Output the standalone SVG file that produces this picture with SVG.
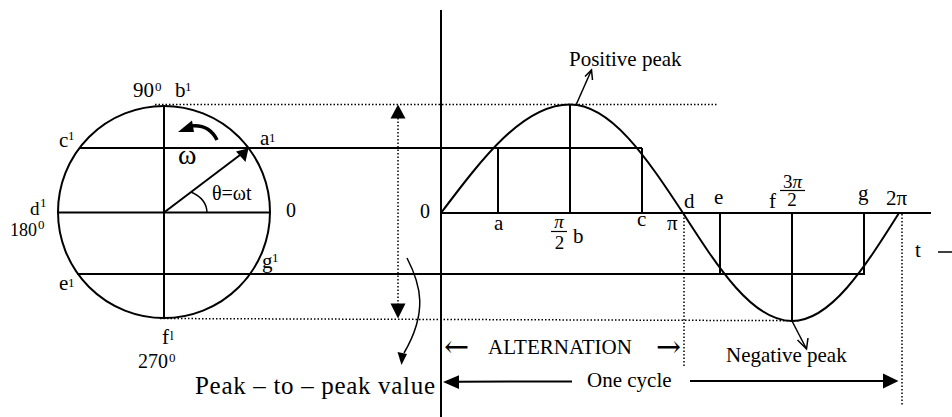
<svg xmlns="http://www.w3.org/2000/svg" width="952" height="417" viewBox="0 0 952 417">
<style>
text{font-family:"Liberation Serif","Times New Roman",serif;fill:#000;font-size:21px}
.sup{font-size:13px}
.arr{font-family:"DejaVu Serif","Liberation Serif",serif;font-size:30px}
.ln{stroke:#000;stroke-width:2;fill:none}
.dot{stroke:#000;stroke-width:1.5;fill:none;stroke-dasharray:1.5 2}
.thin{stroke:#000;stroke-width:1.5;fill:none}
</style>
<rect width="952" height="417" fill="#fff"/>
<g id="phasor-circle">
<circle cx="164" cy="212" r="106" class="ln"/>
<line x1="164" y1="106" x2="164" y2="318" class="ln"/>
<line x1="58" y1="212.5" x2="270" y2="212.5" class="ln"/>
</g>
<g id="sine-wave">
<path class="ln" d="M441,213 C483.1,157.2 523.3,104.5 570,104.5 C610.9,104.5 646.2,157.2 683,213 C718.5,268.3 752.6,321 792,321 C830.7,321 864.1,268.3 899,213"/>
<line x1="498" y1="148" x2="498" y2="213" class="ln"/>
<line x1="570" y1="104.5" x2="570" y2="213" class="ln"/>
<line x1="642" y1="148" x2="642" y2="213" class="ln"/>
<line x1="720" y1="213" x2="720" y2="274" class="ln"/>
<line x1="792" y1="213" x2="792" y2="321" class="ln"/>
<line x1="864" y1="213" x2="864" y2="274" class="ln"/>
</g>
<g id="axes">
<line x1="441" y1="10" x2="441" y2="417" class="ln"/>
<line x1="441" y1="213" x2="931" y2="213" class="ln"/>
</g>
<g id="connectors">
<line x1="79" y1="148" x2="642" y2="148" class="ln"/>
<line x1="77" y1="274" x2="865" y2="274" class="ln"/>
<line x1="155" y1="104.5" x2="718" y2="104.5" class="dot"/>
<line x1="160" y1="318.5" x2="800" y2="320.7" class="dot"/>
<line x1="684" y1="214" x2="684" y2="366" class="dot"/>
<line x1="902" y1="214" x2="902" y2="406" class="dot"/>
<line x1="398" y1="118" x2="398" y2="304" class="dot"/>
<polygon points="398,104.5 390.5,118.5 405.5,118.5" fill="#000"/>
<polygon points="398,318.5 390.5,303.5 405.5,303.5" fill="#000"/>
<path class="thin" d="M407,258 C421,285 428,312 404,353"/>
<polygon points="401.5,365 397.5,352 407,354" fill="#000"/>
<line x1="164" y1="212.5" x2="240" y2="155" class="ln"/>
<polygon points="248.5,148.3 236,151.5 245.5,162" fill="#000"/>
<path class="thin" d="M191,192 Q207,199 207,213"/>
<path d="M217,140 Q209,124 191,126" stroke="#000" stroke-width="3.5" fill="none"/>
<polygon points="178,132 192,120.5 194,132" fill="#000"/>
<line x1="576" y1="105" x2="591.5" y2="70" class="thin"/>
<polyline points="585,76.5 591.5,70 592.5,80" class="thin"/>
<line x1="792" y1="321" x2="806.5" y2="349" class="thin"/>
<polyline points="797.5,340 806.5,349 808,338" class="thin"/>
<line x1="458" y1="381.7" x2="572" y2="381.5" class="ln"/>
<polygon points="443,382 459,375.3 459,389" fill="#000"/>
<line x1="690" y1="381" x2="884" y2="381" class="ln"/>
<polygon points="898.5,381 883,373.5 883,388.5" fill="#000"/>
<line x1="938" y1="252" x2="952" y2="252" class="thin"/>
</g>
<g id="labels">
<text x="133" y="97">90</text><text x="155" y="91" class="sup">0</text>
<text x="175" y="97">b</text><text x="185" y="91" class="sup">1</text>
<text x="59" y="147">c</text><text x="68" y="140" class="sup">1</text>
<text x="260" y="145">a</text><text x="269" y="142" class="sup">1</text>
<text x="178" y="164" style="font-size:28px">ω</text>
<text x="212" y="200" style="font-size:20px">θ=ωt</text>
<text x="286" y="217" style="font-size:20px">0</text>
<text x="30" y="215" style="font-size:19px">d</text><text x="40" y="207" class="sup">1</text>
<text x="10" y="236" style="font-size:18px">180</text><text x="38" y="229" class="sup">0</text>
<text x="262" y="268">g</text><text x="272" y="262" class="sup">1</text>
<text x="59" y="290">e</text><text x="68" y="287" class="sup">1</text>
<text x="162" y="344">f</text><text x="170" y="340" class="sup">l</text>
<text x="138" y="368" style="font-size:20px">270</text><text x="169" y="362" class="sup">0</text>
<text x="420" y="218" style="font-size:20px">0</text>
<text x="494" y="230">a</text>
<text x="559" y="228" text-anchor="middle" style="font-size:19px;font-style:italic">π</text>
<line x1="551" y1="231.5" x2="567" y2="231.5" stroke="#000" stroke-width="1.2"/>
<text x="559.5" y="249" text-anchor="middle" style="font-size:19px">2</text>
<text x="573" y="243">b</text>
<text x="637" y="226">c</text>
<text x="667" y="230">π</text>
<text x="684" y="208">d</text>
<text x="714" y="204">e</text>
<text x="769" y="208">f</text>
<text x="792.5" y="188" text-anchor="middle" style="font-size:19px"><tspan>3</tspan><tspan font-style="italic">π</tspan></text>
<line x1="780" y1="190.5" x2="805" y2="190.5" stroke="#000" stroke-width="1.2"/>
<text x="792" y="206" text-anchor="middle" style="font-size:19px">2</text>
<text x="858" y="200">g</text>
<text x="886" y="205">2π</text>
<text x="915" y="257">t</text>
<text x="569" y="66">Positive peak</text>
<text x="444" y="357" class="arr">←</text>
<text x="488" y="354">ALTERNATION</text>
<text x="656" y="357" class="arr">→</text>
<text x="726" y="362">Negative peak</text>
<text x="587" y="387">One cycle</text>
<text x="195" y="394" style="font-size:25px" textLength="240">Peak – to – peak value</text>
</g>
</svg>
